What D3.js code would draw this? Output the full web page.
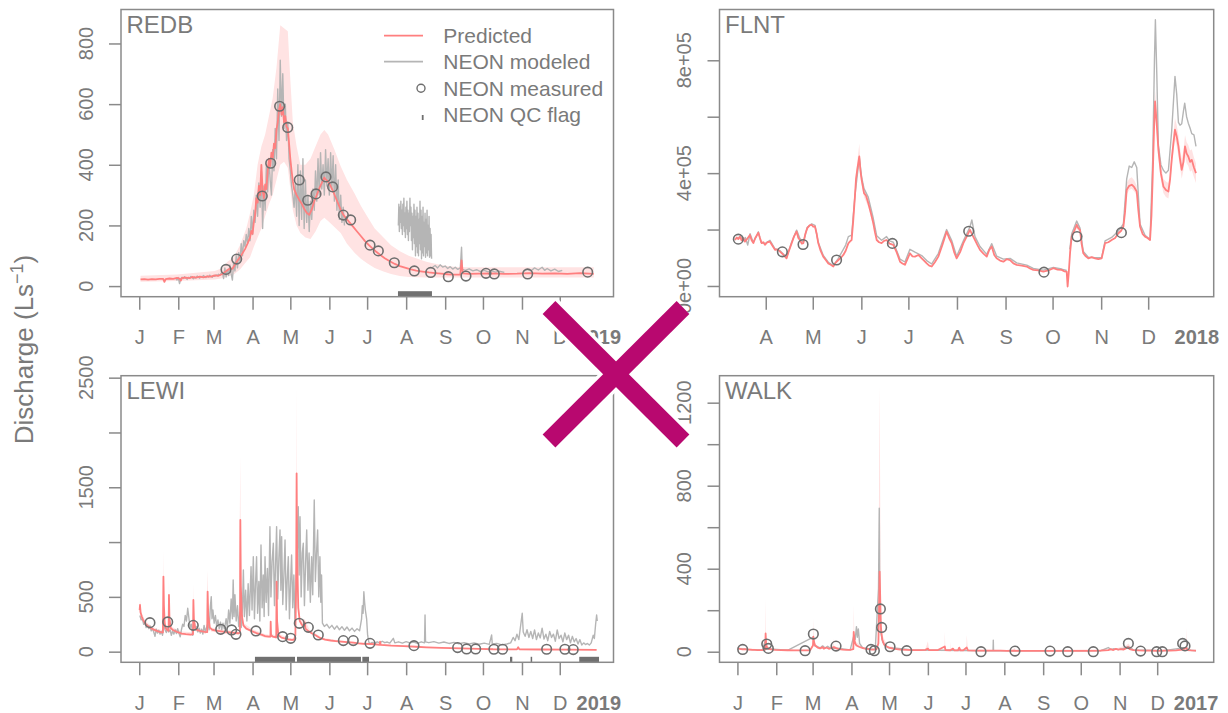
<!DOCTYPE html>
<html><head><meta charset="utf-8">
<script src="https://cdn.jsdelivr.net/npm/d3@7"></script>
<style>
html,body{margin:0;padding:0;background:#fff;}
svg{display:block;font-family:"Liberation Sans",Arial,Helvetica,sans-serif;}
</style></head><body>
<svg id="chart" width="1228" height="713"></svg>
<script>
// ---------------- DATA (x = day of year, fractional; y = discharge L/s) ----------------
const monthLetters = ["J","F","M","A","M","J","J","A","S","O","N","D"];

// ===== REDB (2018) =====
const redbPredicted = [[1,22],[4,23],[7,21],[10,23],[13,22],[16,24],[19,24],[20,14],[21,23],[24,25],[27,24],[30,27],[32,25],[33,18],[34,27],[37,28],[40,26],[42,30],[45,28],[48,31],[51,29],[54,32],[57,31],[60,35],[63,34],[66,40],[68,46],[70,52],[72,58],[74,57],[76,70],[78,84],[80,95],[82,108],[84,122],[86,140],[88,160],[89,182],[90,172],[91,210],[92,235],[93,290],[94,275],[95,330],[96,300],[97,400],[98,315],[99,290],[100,335],[101,320],[102,380],[103,420],[104,395],[105,440],[106,420],[107,470],[108,455],[109,515],[110,540],[111,580],[112,600],[113,565],[114,590],[115,540],[116,560],[117,525],[118,520],[119,470],[120,420],[121,380],[122,345],[123,320],[125,300],[127,285],[129,272],[131,255],[133,242],[135,235],[137,252],[139,280],[141,300],[143,322],[145,340],[147,358],[148,352],[150,345],[152,330],[154,312],[156,292],[158,272],[160,252],[162,236],[164,225],[166,215],[168,205],[170,195],[173,180],[176,165],[179,150],[182,137],[185,125],[188,114],[191,104],[195,92],[199,82],[203,73],[207,66],[211,61],[215,56],[220,51],[225,48],[230,45],[235,43],[240,41],[245,39],[250,38],[255,38],[256,85],[257,42],[262,40],[270,41],[280,42],[290,40],[300,41],[310,43],[320,41],[330,42],[340,40],[350,43],[361,40]];
const redbBand = [[1,14,34],[30,17,38],[60,22,50],[66,26,60],[70,32,80],[75,38,95],[80,55,135],[85,80,190],[88,95,240],[91,130,300],[94,160,400],[97,190,460],[100,230,500],[103,270,560],[106,300,620],[109,350,720],[112,400,860],[115,410,850],[118,390,840],[120,320,680],[122,250,540],[125,200,460],[128,175,400],[132,160,400],[136,155,420],[140,180,460],[144,215,500],[147,225,515],[150,215,500],[155,195,450],[160,175,395],[165,140,350],[171,110,305],[176,90,265],[181,75,230],[187,60,190],[194,48,160],[200,40,135],[207,33,115],[214,30,100],[221,29,90],[228,28,80],[235,28,74],[242,28,68],[250,28,64],[260,28,62],[280,28,62],[300,28,62],[320,28,62],[340,28,62],[361,28,62]];
const redbModeled = [[29,26],[30,20],[31,28],[32,8],[33,24],[34,29],[35,25],[36,31],[37,27],[38,22],[39,29],[40,26],[41,32],[42,28],[43,24],[44,30],[45,27],[46,33],[47,29],[48,26],[49,32],[50,29],[51,35],[52,31],[53,28],[54,33],[55,30],[56,36],[57,32],[58,29],[59,35],[60,32],[61,37],[62,34],[63,39],[64,36],
[65,42],[66,45],[67,25],[68,60],[69,30],[70,55],[71,35],[72,70],[73,40],[74,20],[75,80],[76,50],[77,100],[78,60],[79,110],[80,80],[81,140],[82,100],[83,150],[84,130],[85,170],[86,140],[87,190],[88,150],[89,230],[90,170],[91,250],[92,210],[93,300],[94,230],[95,340],[96,260],[97,380],[98,190],[99,330],[100,250],[101,400],[102,310],[103,420],[104,350],[105,300],[106,450],[107,380],[108,520],[109,420],[110,650],[111,480],[112,745],[113,560],[114,700],[115,520],[116,600],[117,480],[118,540],[119,420],[120,380],[121,330],[122,300],[123,260],[124,340],[125,230],[126,400],[127,200],[128,380],[129,220],[130,420],[131,190],[132,350],[133,210],[134,300],[135,180],[136,280],[137,220],[138,320],[139,250],[140,380],[141,280],[142,420],[143,300],[144,440],[145,320],[146,400],[147,300],[148,450],[149,330],[150,420],[151,300],[152,440],[153,320],[154,430],[155,280],[156,400],[157,250],[158,350],[159,220],[160,300],[161,210],[162,260],[163,200],[163.5,null],
[205.8,200],[206.2,270],[206.6,180],[207,260],[207.4,210],[207.8,280],[208.2,190],[208.6,250],[209,170],[209.4,270],[209.8,200],[210.2,290],[210.6,180],[211,240],[211.4,160],[211.8,260],[212.2,190],[212.6,280],[213,170],[213.4,250],[213.8,150],[214.2,240],[214.6,180],[215,290],[215.4,200],[215.8,260],[216.2,150],[216.6,240],[217,120],[217.4,230],[217.8,160],[218.2,270],[218.6,140],[219,250],[219.4,100],[219.8,230],[220.2,130],[220.6,260],[221,110],[221.4,240],[221.8,100],[222.2,220],[222.6,140],[223,280],[223.4,120],[223.8,250],[224.2,90],[224.6,230],[225,110],[225.4,260],[225.8,100],[226.2,210],[226.6,130],[227,240],[227.4,95],[227.8,220],[228.2,110],[228.6,250],[229,100],[229.4,200],[229.8,120],[230.2,230],[230.6,95],[231,190],[231.4,100],[231.8,170],[232.2,90],[232.6,null],
[233,62],[235,68],[237,60],[239,70],[241,63],[243,66],[245,58],[247,64],[249,56],[251,62],[253,55],[255,60],[256,128],[256.6,55],[259,52],[262,57],[265,50],[268,54],[271,48],[274,52],[277,47],[280,50],[283,46],[286,49],[290,45],[290.5,null],
[305,48],[308,55],[311,50],[314,60],[317,53],[320,62],[322,52],[324,58],[327,50],[330,56],[333,48],[336,52]];
const redbMeasured = [[68.9,55],[77.4,89],[97.7,297],[104.4,405],[111.5,593],[117.9,523],[127.1,350],[133.8,283],[140.4,304],[148.3,360],[153.6,327],[162.1,234],[167.9,218],[183.3,135],[189.9,116],[202.6,77],[218.5,50],[231.5,45],[245.5,31],[259.5,33],[275.4,42],[282,40],[308.5,40],[356.2,46]];
const redbQC = [[205.5,232.5]];
const redbYTicks = [0,200,400,600,800];
const redbYLabels = ["0","200","400","600","800"];

// ===== FLNT (2017), values in units of 1e5 L/s =====
const FLNT_UNIT = 1e5;
const flntPredicted = [[70.4,1.63],[71.5,1.72],[72.5,1.66],[73.6,1.75],[74.6,1.62],[75.6,1.70],[76.7,1.57],[78,1.66],[79.9,1.81],[81,1.62],[82.1,1.52],[83.3,1.70],[85.3,1.89],[86.3,1.70],[87.4,1.52],[88.5,1.55],[89.5,1.46],[91,1.55],[92.7,1.57],[94,1.45],[95.9,1.28],[97.5,1.30],[99.1,1.22],[101,1.12],[103.3,0.98],[104.5,1.20],[106.5,1.51],[108,1.75],[109.7,1.93],[110.8,1.70],[111.8,1.63],[113,1.50],[114,1.52],[115.3,1.85],[116.5,2.05],[118,2.15],[119.3,2.17],[120.3,2.10],[121.4,2.11],[122.5,1.85],[123.5,1.52],[125,1.25],[126.7,1.04],[128.3,0.92],[129.9,0.80],[131.5,0.75],[133.1,0.69],[134.5,0.82],[136.3,0.92],[138,1.00],[139.5,1.10],[141,1.25],[142.7,1.51],[143.8,1.58],[144.8,1.63],[145.8,2.30],[146.9,3.17],[147.6,3.80],[148.4,4.12],[149.7,4.59],[150.4,4.10],[151.2,3.76],[152.7,3.29],[154,3.20],[155.4,2.94],[157,2.60],[158.6,2.23],[159.7,1.90],[160.8,1.63],[162.3,1.55],[163.9,1.52],[165.5,1.60],[167.1,1.63],[169,1.50],[171.4,1.46],[173.5,1.20],[175.7,0.86],[177.2,0.80],[178.8,0.75],[180.4,0.95],[182,1.16],[183.6,1.05],[185.2,1.04],[187.4,1.10],[189.5,0.98],[191,0.90],[192.7,0.80],[194.3,0.72],[195.9,0.69],[198,0.85],[200.1,1.04],[202.7,1.45],[205.4,1.93],[207,1.70],[208.6,1.52],[210.2,1.20],[211.8,0.98],[214,1.20],[216.1,1.52],[218.2,1.75],[220.3,1.99],[221.9,1.80],[223.5,1.63],[225.1,1.45],[226.7,1.28],[228.9,1.15],[231,1.04],[232.6,1.28],[234.2,1.40],[235.8,1.10],[237.3,0.98],[239.5,0.90],[241.6,0.86],[243.7,0.95],[245.9,0.92],[248,0.80],[250.1,0.75],[253.3,0.72],[256.5,0.69],[258.6,0.62],[260.7,0.57],[263.9,0.55],[267.1,0.51],[270.3,0.55],[273.5,0.63],[276.2,0.58],[278.8,0.57],[280.4,0.52],[282,0.51],[282.6,-0.02],[283.3,0.45],[284.2,1.20],[285.2,1.75],[286.8,1.95],[288.4,2.17],[289.4,2.05],[290.5,1.99],[291.5,1.50],[292.6,1.16],[294.2,1.05],[295.8,0.98],[298,1.02],[300.1,0.98],[302.2,0.95],[304.3,0.98],[305.4,1.25],[306.5,1.52],[308.6,1.55],[310.7,1.63],[312.9,1.70],[315,1.87],[316.6,1.95],[318.2,2.11],[319.2,2.60],[320.3,3.41],[321.9,3.55],[323.5,3.59],[325.1,3.50],[326.7,3.35],[327.7,2.70],[328.8,2.11],[330.4,1.85],[332,1.75],[333.6,1.70],[335.2,1.63],[336.1,2.50],[336.9,3.88],[337.7,5.50],[338.4,6.54],[339.4,5.80],[340.5,4.83],[342.1,4.00],[343.7,3.53],[345.3,3.40],[346.9,3.35],[348,3.80],[349,4.47],[350,5.00],[351.1,5.54],[352.2,5.30],[353.3,4.95],[354.3,4.50],[355.4,4.12],[356.5,4.40],[357.5,4.95],[358.5,4.70],[359.6,4.59],[360.7,4.40],[361.8,4.47],[363.2,4.20],[364.5,4.00]];
const flntBand = [[144.8,1.58,1.70],[145.8,2.2,2.45],[146.9,3.0,3.4],[147.6,3.6,4.05],[148.4,3.95,4.4],[149.7,4.35,5.05],[150.4,3.9,4.35],[151.2,3.6,3.95],[152.7,3.15,3.45],[155.4,2.8,3.1],[158.6,2.12,2.35],[159,null,null],
[284.2,1.1,1.3],[285.2,1.65,1.88],[286.8,1.85,2.1],[288.4,2.05,2.35],[289.4,1.95,2.2],[290.5,1.88,2.12],[291.5,1.42,1.6],[292,null,null],
[316.6,1.9,2.02],[318.2,2.05,2.2],[319.2,2.5,2.75],[320.3,3.25,3.65],[321.9,3.4,3.8],[323.5,3.45,3.85],[325.1,3.35,3.75],[326.7,3.2,3.55],[327.7,2.6,2.85],[328.8,2.05,2.2],[329,null,null],
[336.1,2.4,2.65],[336.9,3.7,4.1],[337.7,5.2,5.9],[338.4,6.2,6.95],[339.4,5.5,6.2],[340.5,4.55,5.15],[342.1,3.75,4.3],[343.7,3.3,3.8],[345.3,3.15,3.7],[346.9,3.1,3.65],[348,3.55,4.1],[349,4.2,4.8],[350,4.7,5.35],[351.1,5.2,5.95],[352.2,4.95,5.7],[353.3,4.6,5.35],[354.3,4.2,4.9],[355.4,3.8,4.5],[356.5,4.1,4.8],[357.5,4.6,5.35],[358.5,4.35,5.1],[359.6,4.25,5.0],[360.7,4.05,4.8],[361.8,4.1,4.85],[363.2,3.85,4.55],[364.5,3.65,4.35]];
const flntModeled = [[72.5,1.70],[74,1.78],[75.5,1.60],[77,1.72],[78.5,1.45],[80,1.85],[82,1.55],[84,1.75],[85.3,1.92],[87,1.55],[89.5,1.50],[92.7,1.62],[95.9,1.32],[99.1,1.25],[103.3,1.02],[106.5,1.55],[109.7,1.98],[111.8,1.68],[114,1.55],[116.5,2.08],[119.3,2.20],[121.4,2.15],[123.5,1.55],[126.7,1.08],[129.9,0.84],[133.1,0.72],[136.3,0.98],[139.5,1.30],[141,1.45],[142.7,1.75],[144.8,1.80],[146.9,3.20],[149.7,4.55],[151.2,3.85],[152.7,3.45],[155.4,3.15],[158.6,2.40],[160.8,1.78],[163.9,1.62],[167.1,1.75],[169,1.60],[171.4,1.55],[175.7,0.95],[178.8,0.85],[182,1.30],[185.2,1.20],[189.5,1.08],[192.7,0.90],[195.9,0.78],[200.1,1.15],[205.4,2.00],[208.6,1.62],[211.8,1.05],[216.1,1.60],[220.3,2.10],[221.5,2.34],[223.5,1.75],[226.7,1.40],[231,1.12],[234.2,1.50],[237.3,1.06],[241.6,0.95],[245.9,0.98],[250.1,0.82],[256.5,0.74],[260.7,0.62],[267.1,0.56],[273.5,0.66],[278.8,0.60],[282,0.55],[282.5,null],[284,1.30],[285.2,1.85],[288.4,2.30],[290.5,2.05],[292.6,1.22],[295.8,1.02],[300.1,1.00],[304.3,1.00],[306.5,1.60],[310.7,1.72],[315,1.95],[318.2,2.20],[320.3,3.80],[321.9,4.25],[323.5,4.20],[325.1,4.40],[326.7,4.20],[328.8,2.20],[332,1.80],[335.2,1.65],[336.9,4.50],[338,8.00],[338.6,9.44],[339.5,7.50],[340.5,5.00],[342.1,4.30],[343.7,4.10],[345.3,4.00],[346.9,4.10],[349,5.50],[351.1,7.43],[352.2,6.80],[353.3,5.80],[354.3,5.70],[355.4,5.75],[356.5,6.20],[357.3,6.48],[358.5,6.00],[359.6,5.77],[360.7,5.60],[361.8,5.40],[363.2,5.36],[364.5,4.95]];
const flntMeasured = [[72.5,1.66],[100.6,1.21],[113.8,1.47],[135.2,0.92],[170.8,1.51],[219.5,1.94],[267.5,0.49],[288.6,1.75],[316.9,1.89]];
const flntQC = [];
const flntYTicks = [0,2,4,6,8];
const flntYLabels = ["0e+00","","4e+05","","8e+05"];

// ===== LEWI (2018) =====
const lewiPredicted = [[0.3,380],[0.6,426],[1,360],[2,320],[3,290],[4.6,260],[6,240],[8,225],[10,210],[12,198],[15.1,185],[17,178],[18.8,175],[19.2,685],[19.6,420],[20.2,260],[21,215],[22,200],[23.3,190],[23.6,517],[24,300],[25,215],[27,195],[30,180],[33.7,165],[37,160],[41,155],[42.7,160],[43,472],[43.4,300],[44.5,210],[46,198],[48,190],[50,185],[52,180],[54,178],[54.3,548],[54.8,330],[56,220],[58,200],[61,192],[65,186],[68,180],[72,176],[76,172],[79,168],[80,175],[80.3,1202],[80.7,600],[81.5,330],[82.7,240],[85,210],[89.3,188],[93,170],[97,155],[100,142],[103,137],[104.2,137],[104.4,274],[104.7,150],[106,138],[108.8,130],[109.1,639],[109.5,280],[110.5,150],[113,128],[116,120],[118.4,112],[121,108],[123,108],[124,150],[124.6,600],[125,1627],[125.4,900],[126.3,400],[127.5,280],[129,250],[130.3,228],[131.5,265],[132,210],[134,190],[137,168],[140,150],[143.5,125],[147.5,110],[152,102],[156,97],[160.8,92],[165,88],[170,82],[174,76],[178,72],[184.6,70],[191,62],[191.3,91],[191.8,62],[200,55],[210,50],[220,45],[228,40],[240,35],[255,30],[270,26],[281,22],[300,21],[301,40],[302,21],[320,20],[340,18],[363.3,16]];
const lewiBand = [[0.3,340,420],[0.6,380,470],[2,290,350],[5,235,280],[10,190,230],[15,168,205],[18.8,160,195],[19.2,560,928],[19.6,380,470],[20.2,235,290],[22,182,220],[23.3,172,210],[23.6,440,670],[24,270,330],[26,185,225],[33.7,150,185],[42.7,145,178],[43,400,624],[43.4,270,330],[45,185,225],[53,162,198],[54.3,470,745],[54.8,300,360],[57,185,220],[70,160,195],[79,152,185],[80.3,1000,1794],[80.7,520,700],[81.5,300,360],[83,215,260],[90,170,205],[100,128,158],[104.2,124,152],[104.4,230,300],[104.7,135,165],[108.8,118,145],[109.1,560,720],[109.5,250,310],[110.5,135,165],[118,100,125],[123.5,98,125],[124,135,170],[124.6,530,680],[125,1300,2433],[125.4,800,1000],[126.3,360,440],[128,240,290],[131.5,235,295],[135,170,205],[145,110,130],[160,82,100],[185,62,78],[220,40,50],[280,19,26],[363.3,14,19]];
const lewiModeled = [[0.5,330],[1.5,290],[2.5,300],[3.5,250],[4.5,270],[5.5,220],[6.5,245],[7.5,210],[8.5,235],[9.5,190],[10.5,215],[11.5,180],[12.5,140],[13.5,205],[14.5,170],[15.5,195],[16.5,160],[17.5,185],[18.5,150],[19.5,260],[20.5,200],[21.5,175],[22.5,215],[23.5,180],[24.5,200],[25.5,150],[26.5,190],[27.5,160],[28.5,200],[29.5,165],[30.5,210],[31.5,170],[32.5,135],[33.5,200],[34.5,250],[35.5,230],[36.5,330],[37.5,280],[38.5,396],[39.5,300],[40.5,220],[41.5,250],[42.5,150],[43.5,280],[44.5,200],[45.5,230],[46.5,180],[47.5,215],[48.5,170],[49.5,205],[50.5,160],[51.5,240],[52.5,180],[53.5,220],[54.5,260],[55.5,200],[56.5,411],[57.2,502],[57.8,300],[58.5,380],[59.5,260],[60.5,330],[61.5,230],[62.5,290],[63.5,210],[64.5,270],[65.5,200],[66.5,260],[67.5,210],
[68,230],[69,300],[70,220],[71,380],[72,260],[73,480],[74,300],[74.6,654],[75.3,320],[76,520],[77,280],[78,420],[79,230],[80,360],[81,220],[82,400],[82.7,745],[83.5,320],[84.5,560],[85.5,280],[86.5,620],[87.5,330],[88.8,776],[89.6,380],[90.6,867],[91.5,300],[92.3,600],[93.2,867],[94,350],[95,640],[95.8,280],[96.7,973],[97.6,400],[98.5,700],[99.2,320],[99.9,867],[100.8,450],[101.8,760],[102.7,330],[103.8,1141],[104.6,500],[105.5,820],[106.5,989],[107.4,420],[108.2,760],[109.1,1141],[110,480],[110.9,850],[111.8,1110],[112.5,560],[113.1,1050],[114,430],[114.9,700],[115.8,1019],[116.7,380],[117.5,650],[118.4,867],[119.3,300],[120.1,600],[121,882],[121.9,400],[122.8,700],[123.7,260],[124.6,650],[125.5,900],[126.3,1323],[127,700],[127.7,1232],[128.6,500],[129.5,900],[130.3,989],[131.2,420],[132.1,800],[133,1110],[134,560],[134.9,900],[135.9,450],[136.9,867],[137.8,520],[139,1384],[139.9,640],[140.8,900],[141.7,1110],[142.6,500],[143.5,867],[144.2,450],[144.8,700],
[145.5,260],[147,230],[149,250],[151,215],[153,240],[155,205],[157,235],[159,200],[161,228],[163,195],[165,225],[167,190],[169,215],[171,185],[173,210],[175,190],[176.6,300],[177.2,420],[177.8,350],[178.4,547],[179,450],[179.6,380],[180.6,300],[181.4,150],[182.3,90],
[183,72],[185,85],[187,75],[189,90],[191,80],[193,95],[195,82],[197,88],[199,78],[201.8,122],[203,80],[206,90],[209,78],[212,92],[215,80],[218,88],[221,76],[224,90],[226.6,80],[227,335],[227.4,90],[230,82],[234,92],[238,78],[242,88],[246,75],[250,85],[254,72],[258,82],[262,70],[266,80],[270,68],[274,78],[278,66],[279.9,152],[280.4,70],[284,75],[288,62],[292,70],[295,80],[297,130],[298.5,100],[300,160],[301.5,110],[302.5,200],[304.2,350],[305,180],[306.5,140],[308,200],[309.5,130],[311,185],[312.5,120],[314,198],[315.5,110],[317,170],[318.5,125],[320,215],[321.5,115],[323,160],[324.5,100],[326,185],[327.5,130],[329,160],[330.5,95],[332,198],[333.5,120],[335,150],[336.5,90],[338,170],[339.5,110],[341,150],[342.5,80],[344,140],[345.5,90],[347,120],[348.5,70],[350,110],[351.5,60],[353,80],[354.5,65],[356,75],[357.5,60],[359,80],[360.6,150],[361.5,120],[362.5,250],[363.3,335],[363.8,280]];
const lewiMeasured = [[8.5,265],[22.6,271],[42.9,240],[64.7,204],[73.4,198],[76.8,158],[92.7,189],[113.9,137],[120.3,122],[127.1,259],[134.3,222],[142.2,152],[162.1,101],[170.0,101],[183.3,76],[218.2,55],[252.9,37],[260,25],[267.2,25],[281.7,22],[288.6,22],[323.6,22],[338.1,22],[344.7,19]];
const lewiQC = [[91.9,123.7],[125.3,176.1],[177.2,182.5],[294.5,296.3],[310.9,311.7],[349.5,365.2]];
const lewiYTicks = [0,500,1000,1500,2000,2500];
const lewiYLabels = ["0","500","","1500","","2500"];

// ===== WALK (2016) =====
const walkPredicted = [[0.3,16],[2,14],[4,11],[6,12],[8,10],[10,10],[12,9],[14,9],[16,8],[18,8],[20,8],[22.2,10],[22.5,88],[22.9,40],[23.5,22],[25,14],[27,11],[30,9],[35,8],[40,7],[45,6],[50,6],[55,6],[58,7],[60.3,30],[60.6,73],[61,50],[62,30],[64,20],[66,16],[68,22],[69,14],[71,20],[73,14],[75,18],[77,22],[79,16],[81,12],[84,10],[87,9],[90,9],[92.5,12],[92.8,96],[93.3,60],[94,40],[95,30],[97,24],[99,20],[101,16],[103,14],[105,12],[107,10],[109,10],[111,12],[112.5,40],[113,200],[113.5,386],[114,250],[114.5,120],[115.5,60],[117,35],[119,25],[121,20],[124,15],[127,12],[130,10],[135,9],[140,8],[145,8],[150,9],[152,15],[153,8],[160,8],[165.5,25],[166,8],[170,7],[172,15],[173,7],[176,6],[177,20],[178,6],[180,6],[183,20],[184,6],[190,5],[195,5],[200,5],[204,5],[210,5],[215,4],[220,5],[225,4],[230,4],[240,4],[250,4],[260,4],[270,4],[280,4],[290,5],[296,8],[298,12],[300,8],[302,14],[304,10],[306,12],[308,10],[310,16],[312,22],[313,12],[316,8],[320,6],[325,5],[330,5],[335,4],[340,5],[345,5],[350,6],[355,10],[358.5,18],[359,8],[362,6],[366,5]];
const walkBand = [[0.3,12,20],[20,6,11],[22.2,8,13],[22.5,70,257],[22.9,32,60],[23.5,18,28],[30,7,12],[58,5,9],[60.3,25,40],[60.6,60,161],[61,40,70],[62,25,38],[66,13,20],[76.3,15,25],[76.6,16,64],[77,18,30],[80,13,20],[90,7,12],[92.5,10,16],[92.8,80,225],[93.3,50,90],[94,33,50],[100,14,20],[111,10,15],[112.5,35,60],[113,150,800],[113.5,300,1285],[114,200,700],[114.5,100,200],[115.5,50,80],[120,18,28],[140,6,10],[150,7,12],[152,12,50],[153,6,10],[165.2,6,10],[165.5,20,97],[166,6,10],[170,6,10],[170.2,8,50],[170.5,6,10],[182.6,6,12],[183,18,80],[184,5,8],[200,4,7],[220,4,7],[221,4,20],[222,4,7],[300,6,12],[310,14,30],[312,18,40],[316,6,11],[350,5,8],[358.2,8,14],[358.5,15,117],[359,6,10],[366,4,7]];
const walkModeled = [[0.3,16],[10,10],[20,8],[22.5,60],[23,15],[40,7],[60.5,70],[61.5,30],[66,18],[68,28],[70,18],[72,26],[74,16],[78,18],[90,9],[93,80],[94,60],[95,121],[95.7,70],[96.5,110],[97.5,40],[100,18],[110,10],[112.6,305],[113.2,691],[113.6,200],[114.5,90],[116,45],[120,20],[140,8],[200,5],[204,5],[204.2,56],[204.4,5],[240,4],[290,5],[296,20],[298,10],[300,14],[304,10],[308,16],[312,25],[316,9],[340,5],[358.4,20],[359,8],[366,5]];
const walkMeasured = [[4.2,11],[23.4,37],[24.7,16],[54,5],[60.6,85],[78.7,27],[106.6,11],[109.3,5],[114.1,206],[115.1,117],[121.8,24],[135.1,5],[194.4,0],[221.5,3],[249.5,3],[263.6,0],[284,0],[312,40],[321.8,3],[334.6,0],[339.1,0],[355.3,40],[357.2,28]];
const walkQC = [];
const walkYTicks = [0,200,400,600,800,1000,1200];
const walkYLabels = ["0","","400","","800","","1200"];

const legendItems = ["Predicted","NEON modeled","NEON measured","NEON QC flag"];

// ---------------- STYLE / LAYOUT ----------------
const COL = {text:"#7a7a7a", axis:"#8a8a8a", pred:"#ff7f7f", band:"#ffe3e3", model:"#b5b5b5", meas:"#6e6e6e", qc:"#707070", cross:"#b8086f"};

const panels = [
  {name:"REDB", year:2018, pred:redbPredicted, band:redbBand, model:redbModeled, meas:redbMeasured, qc:redbQC, yTicks:redbYTicks, yLabels:redbYLabels, unit:1,
   box:{x0:121, x1:613.5, y0:9.5, y1:296.7}, xDom:[-14.5,376.7], yDom:[-35,912], months:[0,1,2,3,4,5,6,7,8,9,10,11], legend:true},
  {name:"FLNT", year:2017, pred:flntPredicted, band:flntBand, model:flntModeled, meas:flntMeasured, qc:flntQC, yTicks:flntYTicks, yLabels:flntYLabels, unit:FLNT_UNIT,
   box:{x0:719.5, x1:1213.7, y0:9.5, y1:296.7}, xDom:[60.5,375.8], yDom:[-0.38e5,9.8e5], months:[3,4,5,6,7,8,9,10,11]},
  {name:"LEWI", year:2018, pred:lewiPredicted, band:lewiBand, model:lewiModeled, meas:lewiMeasured, qc:lewiQC, yTicks:lewiYTicks, yLabels:lewiYLabels, unit:1,
   box:{x0:121, x1:613.5, y0:375.7, y1:662.3}, xDom:[-14.5,376.7], yDom:[-97,2518], months:[0,1,2,3,4,5,6,7,8,9,10,11]},
  {name:"WALK", year:2016, pred:walkPredicted, band:walkBand, model:walkModeled, meas:walkMeasured, qc:walkQC, yTicks:walkYTicks, yLabels:walkYLabels, unit:1,
   box:{x0:719.5, x1:1213.7, y0:375.7, y1:662.3}, xDom:[-14.3,380.1], yDom:[-51,1330], months:[0,1,2,3,4,5,6,7,8,9,10,11]}
];

const svg = d3.select("#chart");
svg.append("rect").attr("width",1228).attr("height",713).attr("fill","#fff");
const defs = svg.append("defs");

function drawPanel(p){
  const base = Date.UTC(p.year,0,1);
  const toDate = d => new Date(base + d*864e5);
  const b = p.box;
  const x = d3.scaleUtc().domain(p.xDom.map(toDate)).range([b.x0,b.x1]);
  const y = d3.scaleLinear().domain(p.yDom).range([b.y1,b.y0]);
  const u = p.unit;
  const g = svg.append("g");
  const clipId = "clip-"+p.name;
  defs.append("clipPath").attr("id",clipId).append("rect")
    .attr("x",b.x0).attr("y",b.y0).attr("width",b.x1-b.x0).attr("height",b.y1-b.y0);
  const plot = g.append("g").attr("clip-path",`url(#${clipId})`);

  plot.append("path").datum(p.band)
    .attr("d", d3.area().defined(d=>d[1]!=null)
      .x(d=>x(toDate(d[0]))).y0(d=>y(d[1]*u)).y1(d=>y(d[2]*u)))
    .attr("fill",COL.band);

  plot.append("path").datum(p.model)
    .attr("d", d3.line().defined(d=>d[1]!=null).x(d=>x(toDate(d[0]))).y(d=>y(d[1]*u)))
    .attr("fill","none").attr("stroke",COL.model).attr("stroke-width",1.4).attr("stroke-linejoin","round");

  plot.append("path").datum(p.pred)
    .attr("d", d3.line().x(d=>x(toDate(d[0]))).y(d=>y(d[1]*u)))
    .attr("fill","none").attr("stroke",COL.pred).attr("stroke-width",1.8).attr("stroke-linejoin","round");

  plot.selectAll("rect.qc").data(p.qc).join("rect").attr("class","qc")
    .attr("x",d=>x(toDate(d[0])))
    .attr("width",d=>Math.max(1.5, x(toDate(d[1]))-x(toDate(d[0]))))
    .attr("y",b.y1-5.5).attr("height",5.5).attr("fill",COL.qc);

  g.selectAll("circle.meas").data(p.meas).join("circle").attr("class","meas")
    .attr("cx",d=>x(toDate(d[0]))).attr("cy",d=>y(d[1]*u)).attr("r",4.8)
    .attr("fill","none").attr("stroke",COL.meas).attr("stroke-width",1.6);

  // frame
  g.append("rect").attr("x",b.x0).attr("y",b.y0).attr("width",b.x1-b.x0).attr("height",b.y1-b.y0)
    .attr("fill","none").attr("stroke",COL.axis).attr("stroke-width",1.5);

  // x axis
  const monthDates = p.months.map(m=>new Date(Date.UTC(p.year,m,1)));
  const xa = g.append("g").attr("transform",`translate(0,${b.y1})`)
    .call(d3.axisBottom(x).tickValues(monthDates).tickSize(13).tickPadding(20.3)
      .tickFormat(d=>monthLetters[d.getUTCMonth()]));
  xa.select(".domain").remove();
  xa.selectAll("line").attr("stroke",COL.axis).attr("stroke-width",1.5);
  xa.selectAll("text").attr("fill",COL.text).style("font-size","20px").style("font-family","'Liberation Sans',Arial,sans-serif");
  g.append("text").attr("x",x(new Date(Date.UTC(p.year+1,0,1)))).attr("y",b.y1+47.5)
    .attr("text-anchor","middle").attr("fill",COL.text).attr("font-weight","bold")
    .style("font-size","20px").text(String(p.year+1));

  // y axis
  const ya = g.append("g").attr("transform",`translate(${b.x0},0)`)
    .call(d3.axisLeft(y).tickValues(p.yTicks.map(v=>v*u)).tickSize(12).tickFormat(""));
  ya.select(".domain").remove();
  ya.selectAll("line").attr("stroke",COL.axis).attr("stroke-width",1.5);
  p.yTicks.forEach((v,i)=>{
    if(!p.yLabels[i]) return;
    g.append("text").attr("transform",`translate(${b.x0-28.3},${y(v*u)}) rotate(-90)`)
      .attr("text-anchor","middle").attr("fill",COL.text).style("font-size","20px").text(p.yLabels[i]);
  });

  // title
  g.append("text").attr("x",b.x0+5.5).attr("y",b.y0+23.3).attr("fill",COL.text)
    .style("font-size","24px").text(p.name);

  if(p.legend){
    const lg = g.append("g");
    const lx0 = 384, lx1 = 423, tx = 443.3;
    const rows = [35.7, 61.7, 88.3, 114.5];
    lg.append("line").attr("x1",lx0).attr("x2",lx1).attr("y1",rows[0]).attr("y2",rows[0]).attr("stroke",COL.pred).attr("stroke-width",1.8);
    lg.append("line").attr("x1",lx0).attr("x2",lx1).attr("y1",rows[1]).attr("y2",rows[1]).attr("stroke",COL.model).attr("stroke-width",1.8);
    lg.append("circle").attr("cx",421).attr("cy",rows[2]).attr("r",4).attr("fill","none").attr("stroke",COL.meas).attr("stroke-width",1.4);
    lg.append("line").attr("x1",422.7).attr("x2",422.7).attr("y1",rows[3]+0.5).attr("y2",rows[3]+5.5).attr("stroke",COL.qc).attr("stroke-width",1.8);
    legendItems.forEach((t,i)=>{
      lg.append("text").attr("x",tx).attr("y",rows[i]+7.6).attr("fill",COL.text).style("font-size","21px").text(t);
    });
  }
}
panels.forEach(drawPanel);

// y-axis title
const yt = svg.append("text").attr("transform","translate(33,349.5) rotate(-90)")
  .attr("text-anchor","middle").attr("fill",COL.text).style("font-size","26px");
yt.append("tspan").text("Discharge (Ls");
yt.append("tspan").attr("baseline-shift","super").style("font-size","18px").text("\u22121");
yt.append("tspan").text(")");

// cross mark overlay
const cross = svg.append("g");
const crossSegs = [[[549,307.5],[683,441]],[[683,307.5],[549,441]]];
crossSegs.forEach(s=>{
  cross.append("line").attr("x1",s[0][0]).attr("y1",s[0][1]).attr("x2",s[1][0]).attr("y2",s[1][1])
    .attr("stroke","#fff").attr("stroke-width",25);
});
crossSegs.forEach(s=>{
  cross.append("line").attr("x1",s[0][0]).attr("y1",s[0][1]).attr("x2",s[1][0]).attr("y2",s[1][1])
    .attr("stroke",COL.cross).attr("stroke-width",18);
});
</script>
</body></html>
